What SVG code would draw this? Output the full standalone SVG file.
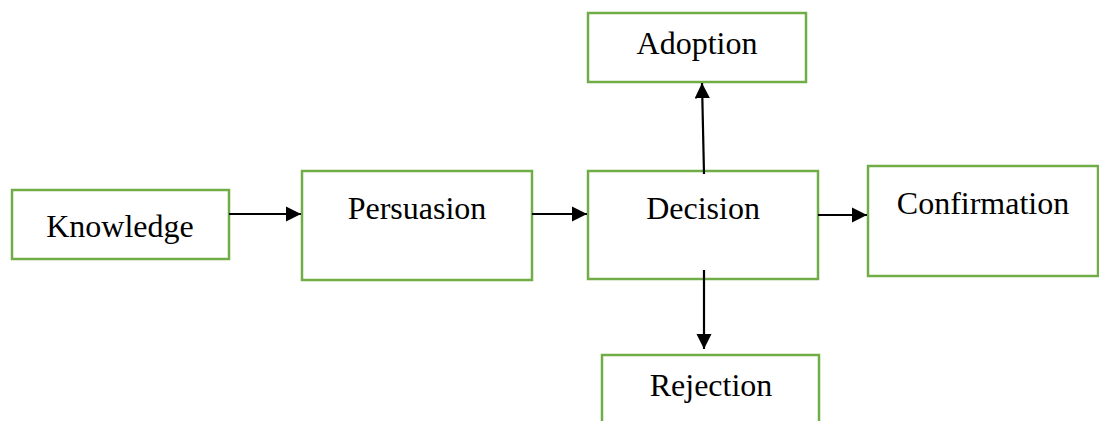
<svg xmlns="http://www.w3.org/2000/svg" width="1099" height="421" viewBox="0 0 1099 421">
<style>
.box{fill:#fff;stroke:#70AD47;stroke-width:2.5}
.lbl{font-family:"Liberation Serif","Times New Roman",serif;font-size:32px;fill:#000;text-anchor:middle}
.con{stroke:#000;stroke-width:2.2;fill:none;marker-end:url(#ah)}
</style>
<defs>
<marker id="ah" viewBox="0 0 10 10" refX="10" refY="5" markerWidth="7" markerHeight="7" orient="auto" markerUnits="strokeWidth">
<path d="M0,0 L10,5 L0,10 z" fill="#000"/>
</marker>
</defs>
<rect width="1099" height="421" fill="#fff"/>
<g id="knowledge"><rect class="box" x="12" y="190" width="217" height="69"/><text class="lbl" x="120" y="237">Knowledge</text></g>
<g id="persuasion"><rect class="box" x="302" y="171" width="230" height="109"/><text class="lbl" x="417" y="219">Persuasion</text></g>
<g id="decision"><rect class="box" x="588" y="171" width="230" height="108"/><text class="lbl" x="703" y="219">Decision</text></g>
<g id="adoption"><rect class="box" x="588" y="13" width="218" height="69"/><text class="lbl" x="697" y="54">Adoption</text></g>
<g id="confirmation"><rect class="box" x="868" y="166" width="230" height="110"/><text class="lbl" x="983" y="214">Confirmation</text></g>
<g id="rejection"><rect class="box" x="602" y="355" width="217" height="80"/><text class="lbl" x="711" y="396">Rejection</text></g>
<g id="connectors">
<line class="con" x1="229" y1="214" x2="301" y2="214"/>
<line class="con" x1="532" y1="214" x2="587" y2="214"/>
<line class="con" x1="818" y1="215" x2="867" y2="215"/>
<line class="con" x1="704" y1="174" x2="702" y2="83"/>
<line class="con" x1="704" y1="270" x2="704" y2="349"/>
</g>
</svg>
